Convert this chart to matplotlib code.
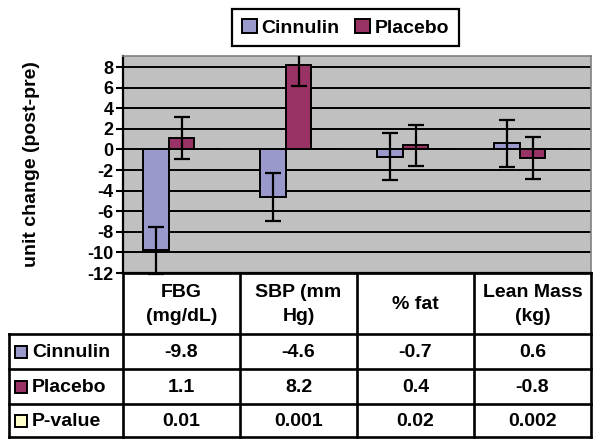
import numpy as np
import matplotlib
matplotlib.use("Agg")
import matplotlib.pyplot as plt
from matplotlib.patches import Patch, Rectangle

plt.rcParams['font.family'] = ['Liberation Sans', 'DejaVu Sans']
plt.rcParams['font.weight'] = 'bold'

# data
categories = ['FBG\n(mg/dL)', 'SBP (mm\nHg)', '% fat', 'Lean Mass\n(kg)']
cinnulin = [-9.8, -4.6, -0.7, 0.6]
placebo = [1.1, 8.2, 0.4, -0.8]
pvalue = [0.01, 0.001, 0.02, 0.002]
cinnulin_err = [2.3, 2.35, 2.3, 2.3]
placebo_err = [2.0, 2.05, 2.0, 2.05]
series_names = ['Cinnulin', 'Placebo', 'P-value']
yticks = [8, 6, 4, 2, 0, -2, -4, -6, -8, -10, -12]

c_cin = '#9999CC'
c_pla = '#993366'
c_pv = '#FFFFCC'
colors = [c_cin, c_pla, c_pv]

W, H = 600, 446
fig = plt.figure(figsize=(6, 4.46), dpi=100)
# plot area in pixels: left 123, right 591, top 56, bottom 273
ax = fig.add_axes([123 / W, 1 - 273 / H, (591 - 123) / W, (273 - 56) / H])
ax.set_facecolor('#C0C0C0')

x = np.arange(len(categories))
w = 0.22
for yv in yticks:
    ax.axhline(yv, color='black', lw=1.4, zorder=1)

ax.bar(x - w, cinnulin, w, color=c_cin, edgecolor='black', lw=1.4, zorder=2)
ax.bar(x, placebo, w, color=c_pla, edgecolor='black', lw=1.4, zorder=2)
ax.bar(x + w, pvalue, w, color=c_pv, edgecolor='black', lw=1.4, zorder=2)
eb = ax.errorbar(x - w, cinnulin, yerr=cinnulin_err, fmt='none', ecolor='black',
                 elinewidth=1.6, capsize=5.5, capthick=1.6, zorder=3)
for art in eb.lines[1] + eb.lines[2]:
    art.set_clip_on(False)
ax.errorbar(x, placebo, yerr=placebo_err, fmt='none', ecolor='black',
            elinewidth=1.6, capsize=5.5, capthick=1.6, zorder=3)

ax.set_xlim(-0.5, len(categories) - 0.5)
ax.set_ylim(-12, 9.07)
ax.set_yticks(yticks)
ax.set_yticklabels([str(t) for t in yticks], fontsize=13, fontweight='bold')
ax.set_xticks([])
ax.tick_params(axis='y', direction='out', length=5, width=1.5, pad=2)
ax.spines['left'].set_linewidth(1.6)
ax.spines['bottom'].set_linewidth(1.6)
for s in ['top', 'right']:
    ax.spines[s].set_color('#808080')
    ax.spines[s].set_linewidth(1.2)

ax.set_ylabel('unit change (post-pre)', fontsize=14, fontweight='bold')
ax.yaxis.set_label_coords(-(123 - 40) / (591 - 123), 0.5)

# legend
handles = [Patch(facecolor=c_cin, edgecolor='black', lw=1.4),
           Patch(facecolor=c_pla, edgecolor='black', lw=1.4)]
leg = fig.legend(handles, series_names[:2], loc='upper center', ncol=2,
                 bbox_to_anchor=(345.5 / W, 1 - 9 / H), borderaxespad=0,
                 fancybox=False, edgecolor='black', framealpha=1,
                 prop={'size': 14, 'weight': 'bold'}, handlelength=0.75,
                 handleheight=0.75, handletextpad=0.25, columnspacing=0.8,
                 borderpad=0.5)
leg.get_frame().set_linewidth(1.6)

# data table below the plot (own axes, pixel units)
table_vals = [cinnulin, placebo, pvalue]
row_h = [61, 35, 35, 33]
label_w, col_w = 114, 117
tab_w = label_w + col_w * len(categories)
tab_h = sum(row_h)
tx = fig.add_axes([9 / W, 1 - (273 + tab_h) / H, tab_w / W, tab_h / H])
tx.set_xlim(0, tab_w)
tx.set_ylim(tab_h, 0)
tx.axis('off')

edges_y = np.cumsum([0] + row_h)
edges_x = label_w + col_w * np.arange(len(categories) + 1)
lw = 1.9
# horizontal lines
tx.plot([label_w, tab_w], [0, 0], color='black', lw=lw, clip_on=False)
for yy in edges_y[1:]:
    tx.plot([0, tab_w], [yy, yy], color='black', lw=lw, clip_on=False,
            solid_capstyle='projecting')
# vertical lines
tx.plot([0, 0], [edges_y[1], tab_h], color='black', lw=lw, clip_on=False,
        solid_capstyle='projecting')
for xx in edges_x:
    tx.plot([xx, xx], [0, tab_h], color='black', lw=lw, clip_on=False,
            solid_capstyle='projecting')

for j, cat in enumerate(categories):
    xc = label_w + col_w * (j + 0.5)
    tx.text(xc, row_h[0] / 2 + 1, cat, ha='center', va='center', fontsize=14,
            fontweight='bold', linespacing=1.5)
    for i, vals in enumerate(table_vals):
        yc = (edges_y[i + 1] + edges_y[i + 2]) / 2
        tx.text(xc, yc + 1, f'{vals[j]:g}', ha='center', va='center',
                fontsize=14, fontweight='bold')

for i, name in enumerate(series_names):
    yc = (edges_y[i + 1] + edges_y[i + 2]) / 2
    tx.add_patch(Rectangle((6, yc - 6), 12, 12, facecolor=colors[i],
                           edgecolor='black', lw=1.4))
    tx.text(23, yc + 1, name, ha='left', va='center', fontsize=14,
            fontweight='bold')

fig.savefig('out.png', dpi=100)
